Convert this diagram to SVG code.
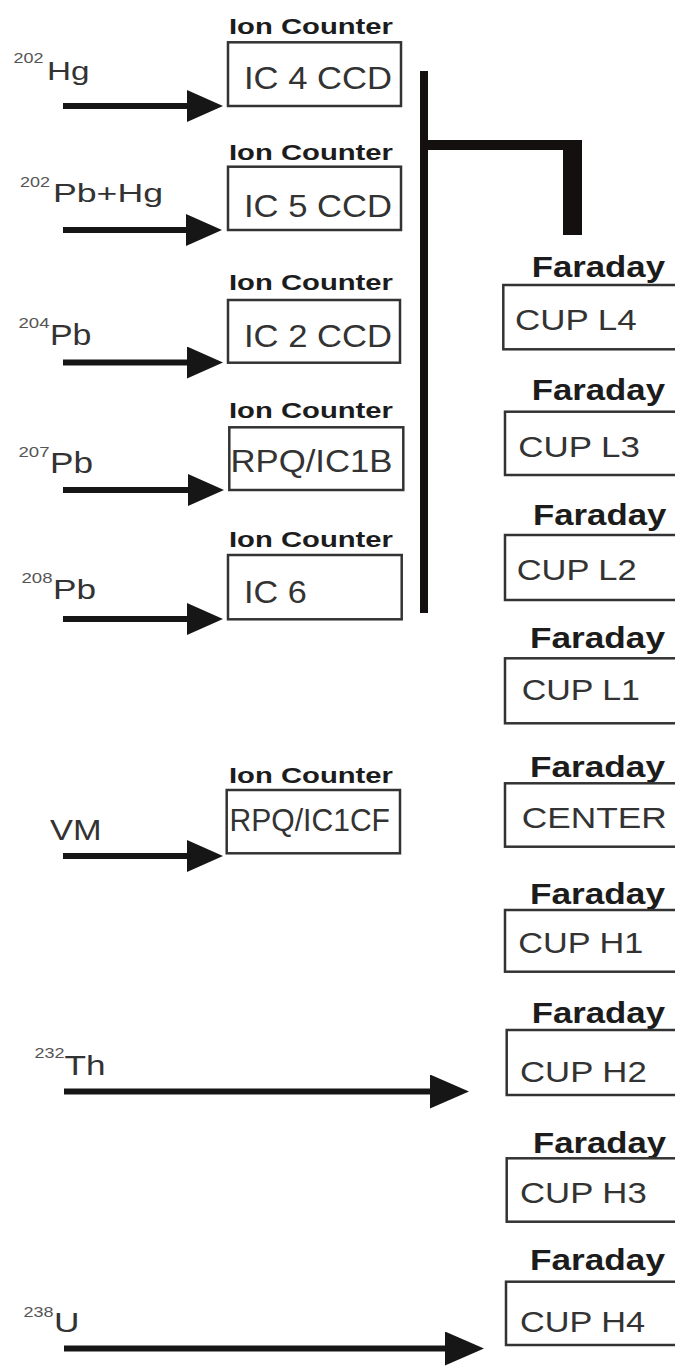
<svg xmlns="http://www.w3.org/2000/svg" width="675" height="1367" viewBox="0 0 675 1367">
<style>
text{font-family:"Liberation Sans",Arial,sans-serif;fill:#2a2a2a}
.hd{font-weight:bold;fill:#1c1c1c}
.ic{font-size:22px}
.fd{font-size:30px}
.in{font-size:32px;fill:#333}
.fin{font-size:30px;fill:#333}
.lb{fill:#333}
.sup{font-size:15px;fill:#555}
.box{fill:#fff;stroke:#333;stroke-width:2.5}
.arr{stroke:#161616;stroke-width:6;fill:none}
.bus{stroke:#141010;fill:none}
</style>
<defs>
<marker id="ah" viewBox="0 0 36 32" refX="28" refY="16" markerWidth="36" markerHeight="32" markerUnits="userSpaceOnUse" orient="auto">
<path d="M0,0 L36,16 L0,32 Z" fill="#161616"/>
</marker>
<marker id="ahL" viewBox="0 0 39 34" refX="31" refY="17" markerWidth="39" markerHeight="34" markerUnits="userSpaceOnUse" orient="auto">
<path d="M0,0 L39,17 L0,34 Z" fill="#161616"/>
</marker>
</defs>
<rect width="675" height="1367" fill="#fff"/>

<g id="connectors">
<line class="arr" x1="63" y1="106" x2="215" y2="106" marker-end="url(#ah)"/>
<line class="arr" x1="63" y1="230" x2="214" y2="230" marker-end="url(#ah)"/>
<line class="arr" x1="63" y1="362.5" x2="215" y2="362.5" marker-end="url(#ah)"/>
<line class="arr" x1="63" y1="490" x2="216" y2="490" marker-end="url(#ah)"/>
<line class="arr" x1="63" y1="619" x2="215" y2="619" marker-end="url(#ah)"/>
<line class="arr" x1="63" y1="856" x2="215" y2="856" marker-end="url(#ah)"/>
<line class="arr" x1="64" y1="1091.5" x2="461" y2="1091.5" marker-end="url(#ahL)"/>
<line class="arr" x1="64" y1="1348.5" x2="476" y2="1348.5" marker-end="url(#ahL)"/>
<path class="bus" d="M424,71 V613" stroke-width="8"/>
<path class="bus" d="M424,145 H572" stroke-width="10"/>
<path class="bus" d="M572.5,140 V235" stroke-width="19"/>
</g>

<g id="src-202Hg"><text class="sup" x="13.5" y="63" textLength="30" lengthAdjust="spacingAndGlyphs">202</text><text class="lb" x="47" y="80" font-size="26" textLength="42.5" lengthAdjust="spacingAndGlyphs">Hg</text></g>
<g id="src-202PbHg"><text class="sup" x="20" y="187" textLength="30" lengthAdjust="spacingAndGlyphs">202</text><text class="lb" x="53" y="202" font-size="25" textLength="110" lengthAdjust="spacingAndGlyphs">Pb+Hg</text></g>
<g id="src-204Pb"><text class="sup" x="18.5" y="328" textLength="31" lengthAdjust="spacingAndGlyphs">204</text><text class="lb" x="50" y="344.5" font-size="29" textLength="41.5" lengthAdjust="spacingAndGlyphs">Pb</text></g>
<g id="src-207Pb"><text class="sup" x="18.5" y="456.5" textLength="31" lengthAdjust="spacingAndGlyphs">207</text><text class="lb" x="50" y="472.5" font-size="29" textLength="43" lengthAdjust="spacingAndGlyphs">Pb</text></g>
<g id="src-208Pb"><text class="sup" x="21.5" y="583" textLength="31" lengthAdjust="spacingAndGlyphs">208</text><text class="lb" x="53" y="598.5" font-size="28" textLength="43" lengthAdjust="spacingAndGlyphs">Pb</text></g>
<g id="src-VM"><text class="lb" x="50" y="840" font-size="30" textLength="51.5" lengthAdjust="spacingAndGlyphs">VM</text></g>
<g id="src-232Th"><text class="sup" x="34.5" y="1058" textLength="30" lengthAdjust="spacingAndGlyphs">232</text><text class="lb" x="64.5" y="1075" font-size="28" textLength="41" lengthAdjust="spacingAndGlyphs">Th</text></g>
<g id="src-238U"><text class="sup" x="23.5" y="1316.5" textLength="30" lengthAdjust="spacingAndGlyphs">238</text><text class="lb" x="54" y="1331.5" font-size="28" textLength="25.5" lengthAdjust="spacingAndGlyphs">U</text></g>

<g id="ic4"><text class="hd ic" x="229" y="33.5" textLength="164" lengthAdjust="spacingAndGlyphs">Ion Counter</text><rect class="box" x="228" y="42.3" width="173" height="63.7"/><text class="in" x="244" y="89.3" textLength="148" lengthAdjust="spacingAndGlyphs">IC 4 CCD</text></g>
<g id="ic5"><text class="hd ic" x="229" y="160" textLength="164" lengthAdjust="spacingAndGlyphs">Ion Counter</text><rect class="box" x="228" y="166.7" width="173" height="63.3"/><text class="in" x="244" y="216.7" textLength="148" lengthAdjust="spacingAndGlyphs">IC 5 CCD</text></g>
<g id="ic2"><text class="hd ic" x="229" y="290" textLength="164" lengthAdjust="spacingAndGlyphs">Ion Counter</text><rect class="box" x="228" y="300" width="172" height="62.7"/><text class="in" x="244" y="346.7" textLength="148" lengthAdjust="spacingAndGlyphs">IC 2 CCD</text></g>
<g id="ic1b"><text class="hd ic" x="229" y="418.3" textLength="164" lengthAdjust="spacingAndGlyphs">Ion Counter</text><rect class="box" x="229.3" y="427.3" width="174" height="62.7"/><text class="in" x="230.5" y="472.3" textLength="162" lengthAdjust="spacingAndGlyphs">RPQ/IC1B</text></g>
<g id="ic6"><text class="hd ic" x="229" y="546.7" textLength="164" lengthAdjust="spacingAndGlyphs">Ion Counter</text><rect class="box" x="228" y="555" width="173.7" height="64.3"/><text class="in" x="244" y="602.7" textLength="62.7" lengthAdjust="spacingAndGlyphs">IC 6</text></g>
<g id="ic1cf"><text class="hd ic" x="229" y="783.3" textLength="164" lengthAdjust="spacingAndGlyphs">Ion Counter</text><rect class="box" x="226.7" y="790" width="173.3" height="63.3"/><text class="in" x="229.5" y="830.7" font-size="30" textLength="160.5" lengthAdjust="spacingAndGlyphs">RPQ/IC1CF</text></g>

<g id="cupL4"><text class="hd fd" x="531.7" y="276.7" textLength="133.3" lengthAdjust="spacingAndGlyphs">Faraday</text><rect class="box" x="503.3" y="285" width="200" height="64.3"/><text class="fin" x="515" y="330" textLength="121.7" lengthAdjust="spacingAndGlyphs">CUP L4</text></g>
<g id="cupL3"><text class="hd fd" x="531.7" y="400" textLength="133.3" lengthAdjust="spacingAndGlyphs">Faraday</text><rect class="box" x="505" y="411.7" width="200" height="63.3"/><text class="fin" x="518.3" y="456.7" textLength="121.7" lengthAdjust="spacingAndGlyphs">CUP L3</text></g>
<g id="cupL2"><text class="hd fd" x="533" y="525" textLength="133.3" lengthAdjust="spacingAndGlyphs">Faraday</text><rect class="box" x="505" y="535" width="200" height="65"/><text class="fin" x="516.7" y="580" textLength="120" lengthAdjust="spacingAndGlyphs">CUP L2</text></g>
<g id="cupL1"><text class="hd fd" x="530" y="648.3" textLength="135" lengthAdjust="spacingAndGlyphs">Faraday</text><rect class="box" x="505" y="658.3" width="200" height="65"/><text class="fin" x="521.7" y="700" textLength="118.3" lengthAdjust="spacingAndGlyphs">CUP L1</text></g>
<g id="center"><text class="hd fd" x="530" y="776.7" textLength="135" lengthAdjust="spacingAndGlyphs">Faraday</text><rect class="box" x="505" y="783.3" width="200" height="63.4"/><text class="fin" x="521.7" y="828.3" textLength="145" lengthAdjust="spacingAndGlyphs">CENTER</text></g>
<g id="cupH1"><text class="hd fd" x="530" y="904" textLength="135" lengthAdjust="spacingAndGlyphs">Faraday</text><rect class="box" x="505" y="910" width="200" height="61.7"/><text class="fin" x="518.3" y="953.3" textLength="125" lengthAdjust="spacingAndGlyphs">CUP H1</text></g>
<g id="cupH2"><text class="hd fd" x="531.7" y="1023.3" textLength="133.3" lengthAdjust="spacingAndGlyphs">Faraday</text><rect class="box" x="506.7" y="1030" width="200" height="65"/><text class="fin" x="520" y="1081.7" textLength="126.7" lengthAdjust="spacingAndGlyphs">CUP H2</text></g>
<g id="cupH3"><text class="hd fd" x="533" y="1153.3" textLength="133" lengthAdjust="spacingAndGlyphs">Faraday</text><rect class="box" x="506.7" y="1158.3" width="200" height="63.4"/><text class="fin" x="520" y="1203.3" textLength="126.7" lengthAdjust="spacingAndGlyphs">CUP H3</text></g>
<g id="cupH4"><text class="hd fd" x="530" y="1270" textLength="135" lengthAdjust="spacingAndGlyphs">Faraday</text><rect class="box" x="506" y="1281.7" width="200" height="63.3"/><text class="fin" x="520" y="1331.7" textLength="125" lengthAdjust="spacingAndGlyphs">CUP H4</text></g>
</svg>
